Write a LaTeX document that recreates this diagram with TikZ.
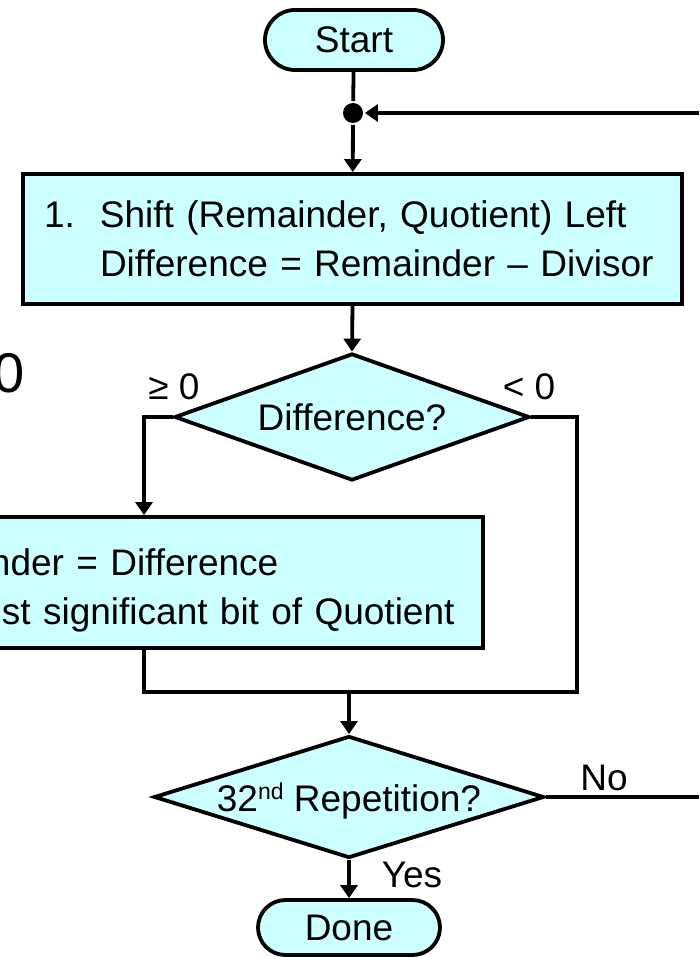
\documentclass[tikz,border=0pt]{standalone}
\usepackage{fontspec}
\setmainfont{Liberation Sans}
\usetikzlibrary{arrows.meta,shapes.geometric,shapes.misc}
\definecolor{flowcyan}{HTML}{CCFFFF}
\tikzset{
  every node/.style={font=\fontsize{37}{49}\selectfont},
  term/.style={rounded rectangle,draw,fill=flowcyan,inner sep=0pt,text depth=0pt},
  proc/.style={rectangle,draw,fill=flowcyan,align=left,inner ysep=0pt},
  test/.style={diamond,draw,fill=flowcyan,inner sep=0pt,text depth=0pt},
  arr/.style={-{Triangle[length=13pt,width=17pt]}}
}
\begin{document}
\begin{tikzpicture}[x=1pt,y=-1pt,line width=3.8pt]
\useasboundingbox (0,0) rectangle (699,957);
\coordinate (back) at (699,113);
\coordinate (gex) at (144,0);
\coordinate (ltcorner) at (577,692);
\coordinate (merge) at (349,692);
\coordinate (loop) at (699,797);

% the boxes
\node[term,minimum width=178pt,minimum height=60pt] (start) at (354,40) {Start};
\node[circle,fill,inner sep=0pt,minimum size=20pt] (join) at (353,113) {};
\node[proc,text width=617pt,inner xsep=21pt,minimum height=130pt] (shift) at (352.5,239)
  {\mbox{\makebox[56pt][l]{1.}Shift (Remainder, Quotient) Left}\\
   \mbox{\hspace*{56pt}Difference = Remainder – Divisor}};
\node[test,aspect=2.8,minimum width=355pt,minimum height=127pt] (diff) at (352,417) {Difference?};
\node[proc,text width=443pt,inner xsep=50pt,minimum height=131pt] (setq) at (211.5,582.5)
  {\mbox{\rule{0pt}{43pt}nder = Difference}\\
   \mbox{\hspace*{12pt}st significant bit of Quotient}};
\node[test,aspect=3.2,minimum width=390pt,minimum height=122pt] (rep) at (349,797)
  {32\raisebox{12pt}{\fontsize{23}{23}\selectfont nd} Repetition?};
\node[term,minimum width=182pt,minimum height=55pt] (done) at (349,927.5) {Done};

% the piece of text cut at the left edge
\node[anchor=base west,inner sep=0pt,font=\fontsize{56}{60}\selectfont] (zero) at (-8,392) {0};

% the connectors
\draw (start) -- (join);
\draw[arr] (join) -- (shift);
\draw[arr] (back) -- (join);
\draw[arr] (shift.south) -- (diff.north);
\draw[arr] (diff.west) -| (setq.north -| gex);
\draw (diff.east) -| (ltcorner) -- (ltcorner -| gex) -- (setq.south -| gex);
\draw[arr] (merge) -- (rep.north);
\draw (rep.east) -- (loop);
\draw[arr] (rep.south) -- (done.north);

% labels of the branches
\foreach \x/\y/\nm/\texto in {174/387/ge/{≥ 0},529/387/lt/{< 0},604/778/no/{No},412/875/yes/{Yes}}
{
  \node[inner sep=0pt] (\nm) at (\x,\y) {\texto};
}
\end{tikzpicture}
\end{document}
